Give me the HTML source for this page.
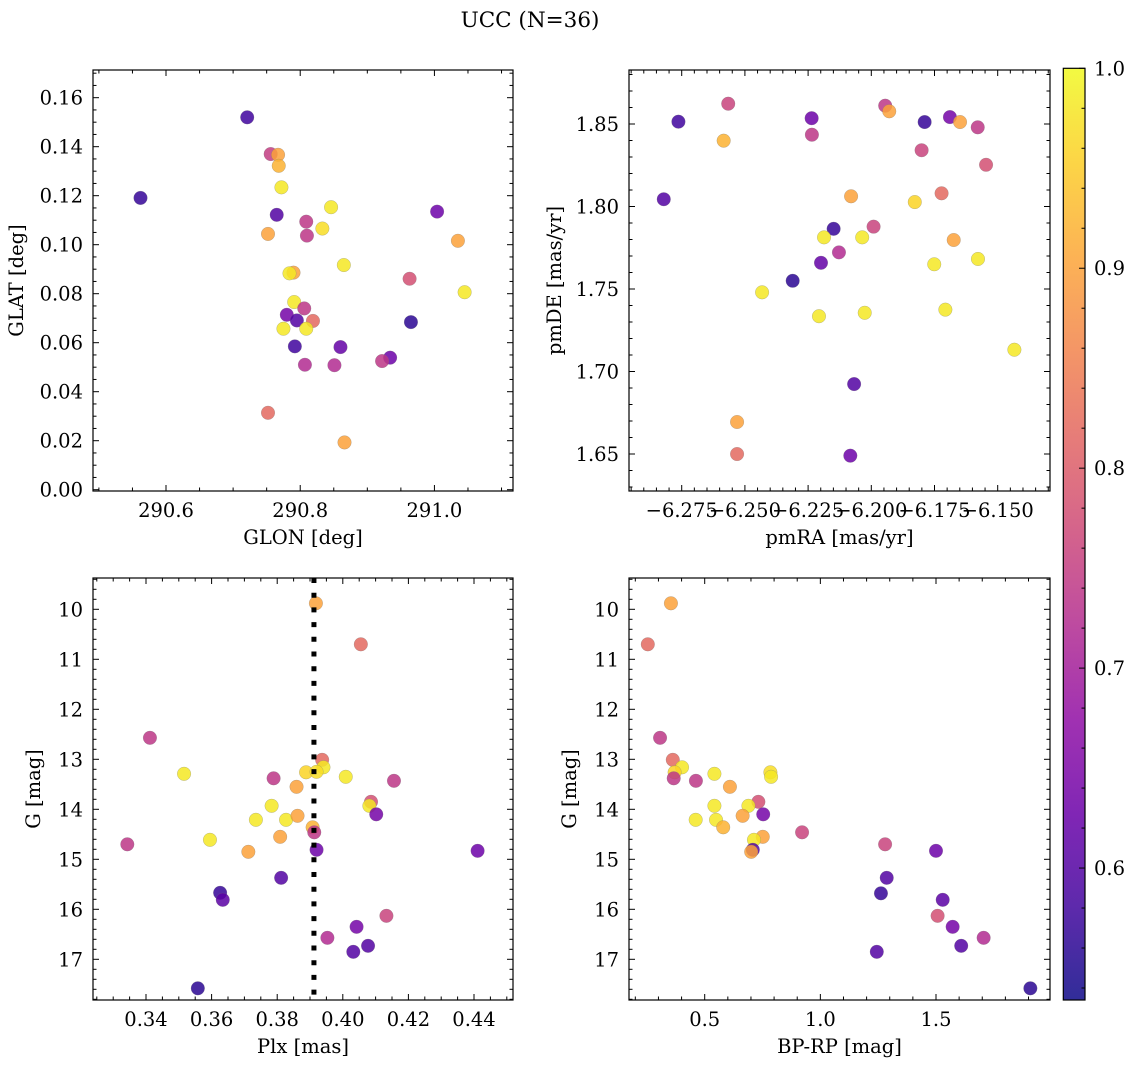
<!DOCTYPE html>
<html><head><meta charset="utf-8"><style>
html,body{margin:0;padding:0;background:#fff;}
svg{display:block;font-family:"DejaVu Serif","Liberation Serif",serif;}
</style></head><body>
<svg id="fig" width="1136" height="1068" viewBox="0 0 1136 1068" xmlns="http://www.w3.org/2000/svg">
<defs><linearGradient id="plasma" x1="0" y1="1" x2="0" y2="0"></linearGradient></defs>
<text x="530" y="27" font-size="21.5" text-anchor="middle">UCC (N=36)</text>
</svg>
<script>
// ---- data ----
const glon = [290.562,290.721,290.756,290.767,290.768,290.772,290.765,290.752,290.846,290.809,290.833,290.810,291.004,291.035,290.790,290.784,290.865,290.963,291.045,290.791,290.806,290.780,290.795,290.819,290.775,290.809,290.965,290.792,290.860,290.934,290.922,290.807,290.851,290.752,290.866];
const glat = [0.1191,0.1520,0.1370,0.1367,0.1322,0.1234,0.1122,0.1044,0.1153,0.1094,0.1066,0.1037,0.1135,0.1016,0.0886,0.0883,0.0917,0.0861,0.0806,0.0766,0.0740,0.0714,0.0691,0.0689,0.0657,0.0657,0.0684,0.0585,0.0582,0.0539,0.0525,0.0510,0.0508,0.0314,0.0193];
const prob1 = [.57,.58,.75,.9,.92,.98,.6,.9,.98,.74,.97,.74,.63,.9,.9,.98,.98,.78,.98,.98,.74,.64,.6,.82,.98,.98,.56,.58,.62,.63,.74,.72,.72,.82,.9];

const pmra = [-6.2763,-6.2821,-6.2566,-6.2584,-6.2236,-6.2235,-6.1945,-6.1929,-6.1789,-6.1689,-6.1649,-6.1579,-6.1801,-6.1546,-6.2080,-6.1722,-6.1828,-6.2149,-6.2187,-6.2036,-6.1991,-6.2128,-6.2199,-6.1674,-6.1751,-6.1578,-6.2311,-6.2432,-6.2207,-6.2026,-6.1707,-6.1434,-6.2068,-6.2531,-6.2531,-6.2083];
const pmde = [1.8514,1.8044,1.8623,1.8399,1.8535,1.8435,1.8611,1.8577,1.8512,1.8542,1.8512,1.8480,1.8341,1.8253,1.8062,1.8080,1.8027,1.7865,1.7813,1.7813,1.7878,1.7722,1.7659,1.7797,1.7650,1.7682,1.7550,1.7480,1.7335,1.7356,1.7375,1.7132,1.6924,1.6694,1.6500,1.6490];
const prob2 = [.58,.6,.76,.92,.63,.74,.74,.9,.57,.64,.9,.74,.76,.78,.9,.82,.96,.57,.98,.98,.76,.72,.62,.9,.98,.98,.56,.98,.98,.98,.98,.98,.6,.9,.82,.63];

const plx = [0.3918,0.4055,0.3412,0.3516,0.3789,0.3888,0.3937,0.3941,0.3920,0.4009,0.4156,0.3859,0.3783,0.4086,0.4081,0.4102,0.3735,0.3827,0.3862,0.3908,0.3913,0.3809,0.3595,0.3343,0.3712,0.3920,0.4411,0.3812,0.3626,0.3634,0.4133,0.4042,0.3953,0.4077,0.4032,0.3558];
const gmag3 = [9.88,10.70,12.57,13.29,13.38,13.26,13.01,13.16,13.25,13.35,13.43,13.55,13.93,13.85,13.93,14.10,14.21,14.21,14.13,14.36,14.46,14.55,14.61,14.70,14.85,14.81,14.83,15.37,15.67,15.81,16.13,16.35,16.57,16.73,16.85,17.58];
const prob3 = [.9,.82,.74,.98,.74,.96,.82,.98,.97,.98,.74,.9,.98,.78,.98,.64,.98,.98,.9,.92,.74,.9,.98,.74,.9,.63,.63,.6,.57,.61,.76,.64,.72,.6,.6,.56];
const plxLine = [0.3912];

const bprp = [0.354,0.254,0.307,0.362,0.402,0.370,0.366,0.542,0.462,0.784,0.787,0.609,0.542,0.732,0.689,0.753,0.461,0.549,0.664,0.580,0.921,0.751,0.713,1.280,0.708,0.701,1.500,1.287,1.262,1.529,1.507,1.572,1.706,1.609,1.244,1.908];
const gmag4 = [9.88,10.70,12.57,13.01,13.16,13.26,13.38,13.29,13.43,13.26,13.35,13.55,13.93,13.85,13.93,14.10,14.21,14.21,14.13,14.36,14.46,14.55,14.61,14.70,14.81,14.85,14.83,15.37,15.68,15.81,16.13,16.35,16.57,16.73,16.85,17.58];
const prob4 = [.9,.82,.74,.82,.98,.96,.74,.98,.74,.97,.98,.9,.98,.78,.98,.64,.98,.98,.9,.92,.76,.9,.98,.76,.6,.9,.63,.6,.57,.61,.78,.64,.72,.6,.6,.56];

const cbTicks = [0.6,0.7,0.8,0.9,1.0];
const VMIN = 0.534, VMAX = 1.0;
const FS = 19.5;

// ---- helpers ----
const NS = "http://www.w3.org/2000/svg";
const svg = document.getElementById('fig');
function mk(tag, attrs, parent){ const e=document.createElementNS(NS,tag); for(const k in attrs) e.setAttribute(k,attrs[k]); (parent||svg).appendChild(e); return e; }
const stops=[[0,[13,8,135]],[.1,[65,4,157]],[.2,[106,0,168]],[.3,[143,13,164]],[.4,[177,42,144]],[.5,[204,71,120]],[.6,[225,100,98]],[.7,[242,132,75]],[.8,[252,166,54]],[.9,[252,206,37]],[1,[240,249,33]]];
function plasma(t){ t=Math.max(0,Math.min(1,t)); for(let i=1;i<stops.length;i++){ if(t<=stops[i][0]){ const a=stops[i-1],b=stops[i],f=(t-a[0])/(b[0]-a[0]); const c=a[1].map((v,j)=>Math.round(v+(b[1][j]-v)*f)); return `rgb(${c[0]},${c[1]},${c[2]})`; } } return 'rgb(240,249,33)'; }
function color(p){ return plasma((p-VMIN)/(VMAX-VMIN)); }

function panel(o){
  const g = mk('g',{});
  
  
  const sx = v => o.x0 + (v-o.xmin)/(o.xmax-o.xmin)*(o.x1-o.x0);
  const sy = o.yinv ? (v => o.y0 + (v-o.ymin)/(o.ymax-o.ymin)*(o.y1-o.y0))
                    : (v => o.y1 - (v-o.ymin)/(o.ymax-o.ymin)*(o.y1-o.y0));
  const pg = mk('g',{},g);
  for(let i=0;i<o.xs.length;i++){
    const c = mk('circle',{cx:sx(o.xs[i]),cy:sy(o.ys[i]),r:6.8,fill:color(o.ps[i]),'fill-opacity':0.85,stroke:'#777','stroke-width':0.4,'stroke-opacity':0.6},pg);
    
    
  }
  if(o.vline){
    o.vline.forEach(v=>{
      const l = mk('line',{x1:sx(v),x2:sx(v),y1:o.y0,y2:o.y1,stroke:'#000','stroke-width':5,'stroke-dasharray':'5 9.7'},g);
      
      
    });
  }
  const tk = mk('g',{stroke:'#000','stroke-width':1},g);
  const eps=1e-9;
  for(let v=Math.ceil(o.xmin/o.xminor-eps)*o.xminor; v<=o.xmax+eps; v+=o.xminor){
    const isMaj = Math.abs(v/o.xmajor - Math.round(v/o.xmajor))<1e-6;
    const L = isMaj?6:3.5, x=sx(v);
    mk('line',{x1:x,x2:x,y1:o.y1,y2:o.y1-L},tk); mk('line',{x1:x,x2:x,y1:o.y0,y2:o.y0+L},tk);
  }
  for(let v=Math.ceil(o.ymin/o.yminor-eps)*o.yminor; v<=o.ymax+eps; v+=o.yminor){
    const isMaj = Math.abs(v/o.ymajor - Math.round(v/o.ymajor))<1e-6;
    const L = isMaj?6:3.5, y=sy(v);
    mk('line',{x1:o.x0,x2:o.x0+L,y1:y,y2:y},tk); mk('line',{x1:o.x1,x2:o.x1-L,y1:y,y2:y},tk);
  }
  mk('rect',{x:o.x0,y:o.y0,width:o.x1-o.x0,height:o.y1-o.y0,fill:'none',stroke:'#000','stroke-width':1.2},g);
  o.xticks.forEach((v,i)=>{ const t=mk('text',{x:sx(v),y:o.y1+26,'font-size':FS,'text-anchor':'middle'},g); t.textContent=o.xlabels[i];
      });
  o.yticks.forEach((v,i)=>{ const t=mk('text',{x:o.x0-10,y:sy(v)+7,'font-size':FS,'text-anchor':'end'},g); t.textContent=o.ylabels[i];
      });
  const xt=mk('text',{x:(o.x0+o.x1)/2,y:o.y1+53,'font-size':FS,'text-anchor':'middle'},g); xt.textContent=o.xtitle;
   
  const yc=(o.y0+o.y1)/2;
  const yt=mk('text',{x:o.ytx,y:yc,'font-size':FS,'text-anchor':'middle',transform:`rotate(-90 ${o.ytx} ${yc})`},g); yt.textContent=o.ytitle;
   
}

panel({name:'glon-glat-panel',x0:93,x1:513,y0:70,y1:491,xmin:290.4912,xmax:291.1171,ymin:-0.00053,ymax:0.1713,
  xs:glon,ys:glat,ps:prob1,xmajor:0.2,xminor:0.05,ymajor:0.02,yminor:0.005,
  xticks:[290.6,290.8,291.0],xlabels:['290.6','290.8','291.0'],
  yticks:[0,0.02,0.04,0.06,0.08,0.10,0.12,0.14,0.16],ylabels:['0.00','0.02','0.04','0.06','0.08','0.10','0.12','0.14','0.16'],
  xtitle:'GLON [deg]',ytitle:'GLAT [deg]',ytx:23});
panel({name:'pmra-pmde-panel',x0:629,x1:1050,y0:70,y1:491,xmin:-6.29585,xmax:-6.12931,ymin:1.62758,ymax:1.88273,
  xs:pmra,ys:pmde,ps:prob2,xmajor:0.025,xminor:0.005,ymajor:0.05,yminor:0.01,
  xticks:[-6.275,-6.25,-6.225,-6.2,-6.175,-6.15],xlabels:['\u22126.275','\u22126.250','\u22126.225','\u22126.200','\u22126.175','\u22126.150'],
  yticks:[1.65,1.70,1.75,1.80,1.85],ylabels:['1.65','1.70','1.75','1.80','1.85'],
  xtitle:'pmRA [mas/yr]',ytitle:'pmDE [mas/yr]',ytx:561});
panel({name:'plx-g-panel',x0:93,x1:513,y0:578,y1:1000,xmin:0.32384,xmax:0.45189,ymin:9.374,ymax:17.814,yinv:true,
  xs:plx,ys:gmag3,ps:prob3,vline:plxLine,xmajor:0.02,xminor:0.005,ymajor:1,yminor:0.2,
  xticks:[0.34,0.36,0.38,0.40,0.42,0.44],xlabels:['0.34','0.36','0.38','0.40','0.42','0.44'],
  yticks:[10,11,12,13,14,15,16,17],ylabels:['10','11','12','13','14','15','16','17'],
  xtitle:'Plx [mas]',ytitle:'G [mag]',ytx:40});
panel({name:'bprp-g-panel',x0:629,x1:1050,y0:578,y1:1000,xmin:0.1727,xmax:1.9929,ymin:9.374,ymax:17.814,yinv:true,
  xs:bprp,ys:gmag4,ps:prob4,xmajor:0.5,xminor:0.1,ymajor:1,yminor:0.2,
  xticks:[0.5,1.0,1.5],xlabels:['0.5','1.0','1.5'],
  yticks:[10,11,12,13,14,15,16,17],ylabels:['10','11','12','13','14','15','16','17'],
  xtitle:'BP-RP [mag]',ytitle:'G [mag]',ytx:576});

// ---- colorbar ----
const grad = document.getElementById('plasma');
for(let i=0;i<=20;i++){ const t=i/20; mk('stop',{offset:t,'stop-color':plasma(t),'stop-opacity':0.85},grad); }
const cb = mk('g',{});


const cbx0=1063.3, cbx1=1085, cby0=68.3, cby1=1000;
const cy = v => cby1 - (v-VMIN)/(VMAX-VMIN)*(cby1-cby0);
mk('rect',{x:cbx0,y:cby0,width:cbx1-cbx0,height:cby1-cby0,fill:'url(#plasma)'},cb);
for(let v=0.54; v<=1.0001; v+=0.02){ const maj=Math.abs(v*10-Math.round(v*10))<1e-6; const y=cy(v);
  mk('line',{x1:cbx1,x2:cbx1-(maj?6:3.5),y1:y,y2:y,stroke:'#000','stroke-width':1},cb); }
mk('rect',{x:cbx0,y:cby0,width:cbx1-cbx0,height:cby1-cby0,fill:'none',stroke:'#000','stroke-width':1.2},cb);
cbTicks.forEach(v=>{ const t=mk('text',{x:1094,y:cy(v)+7,'font-size':FS},cb); t.textContent=v.toFixed(1);
    });
</script>
</body></html>
